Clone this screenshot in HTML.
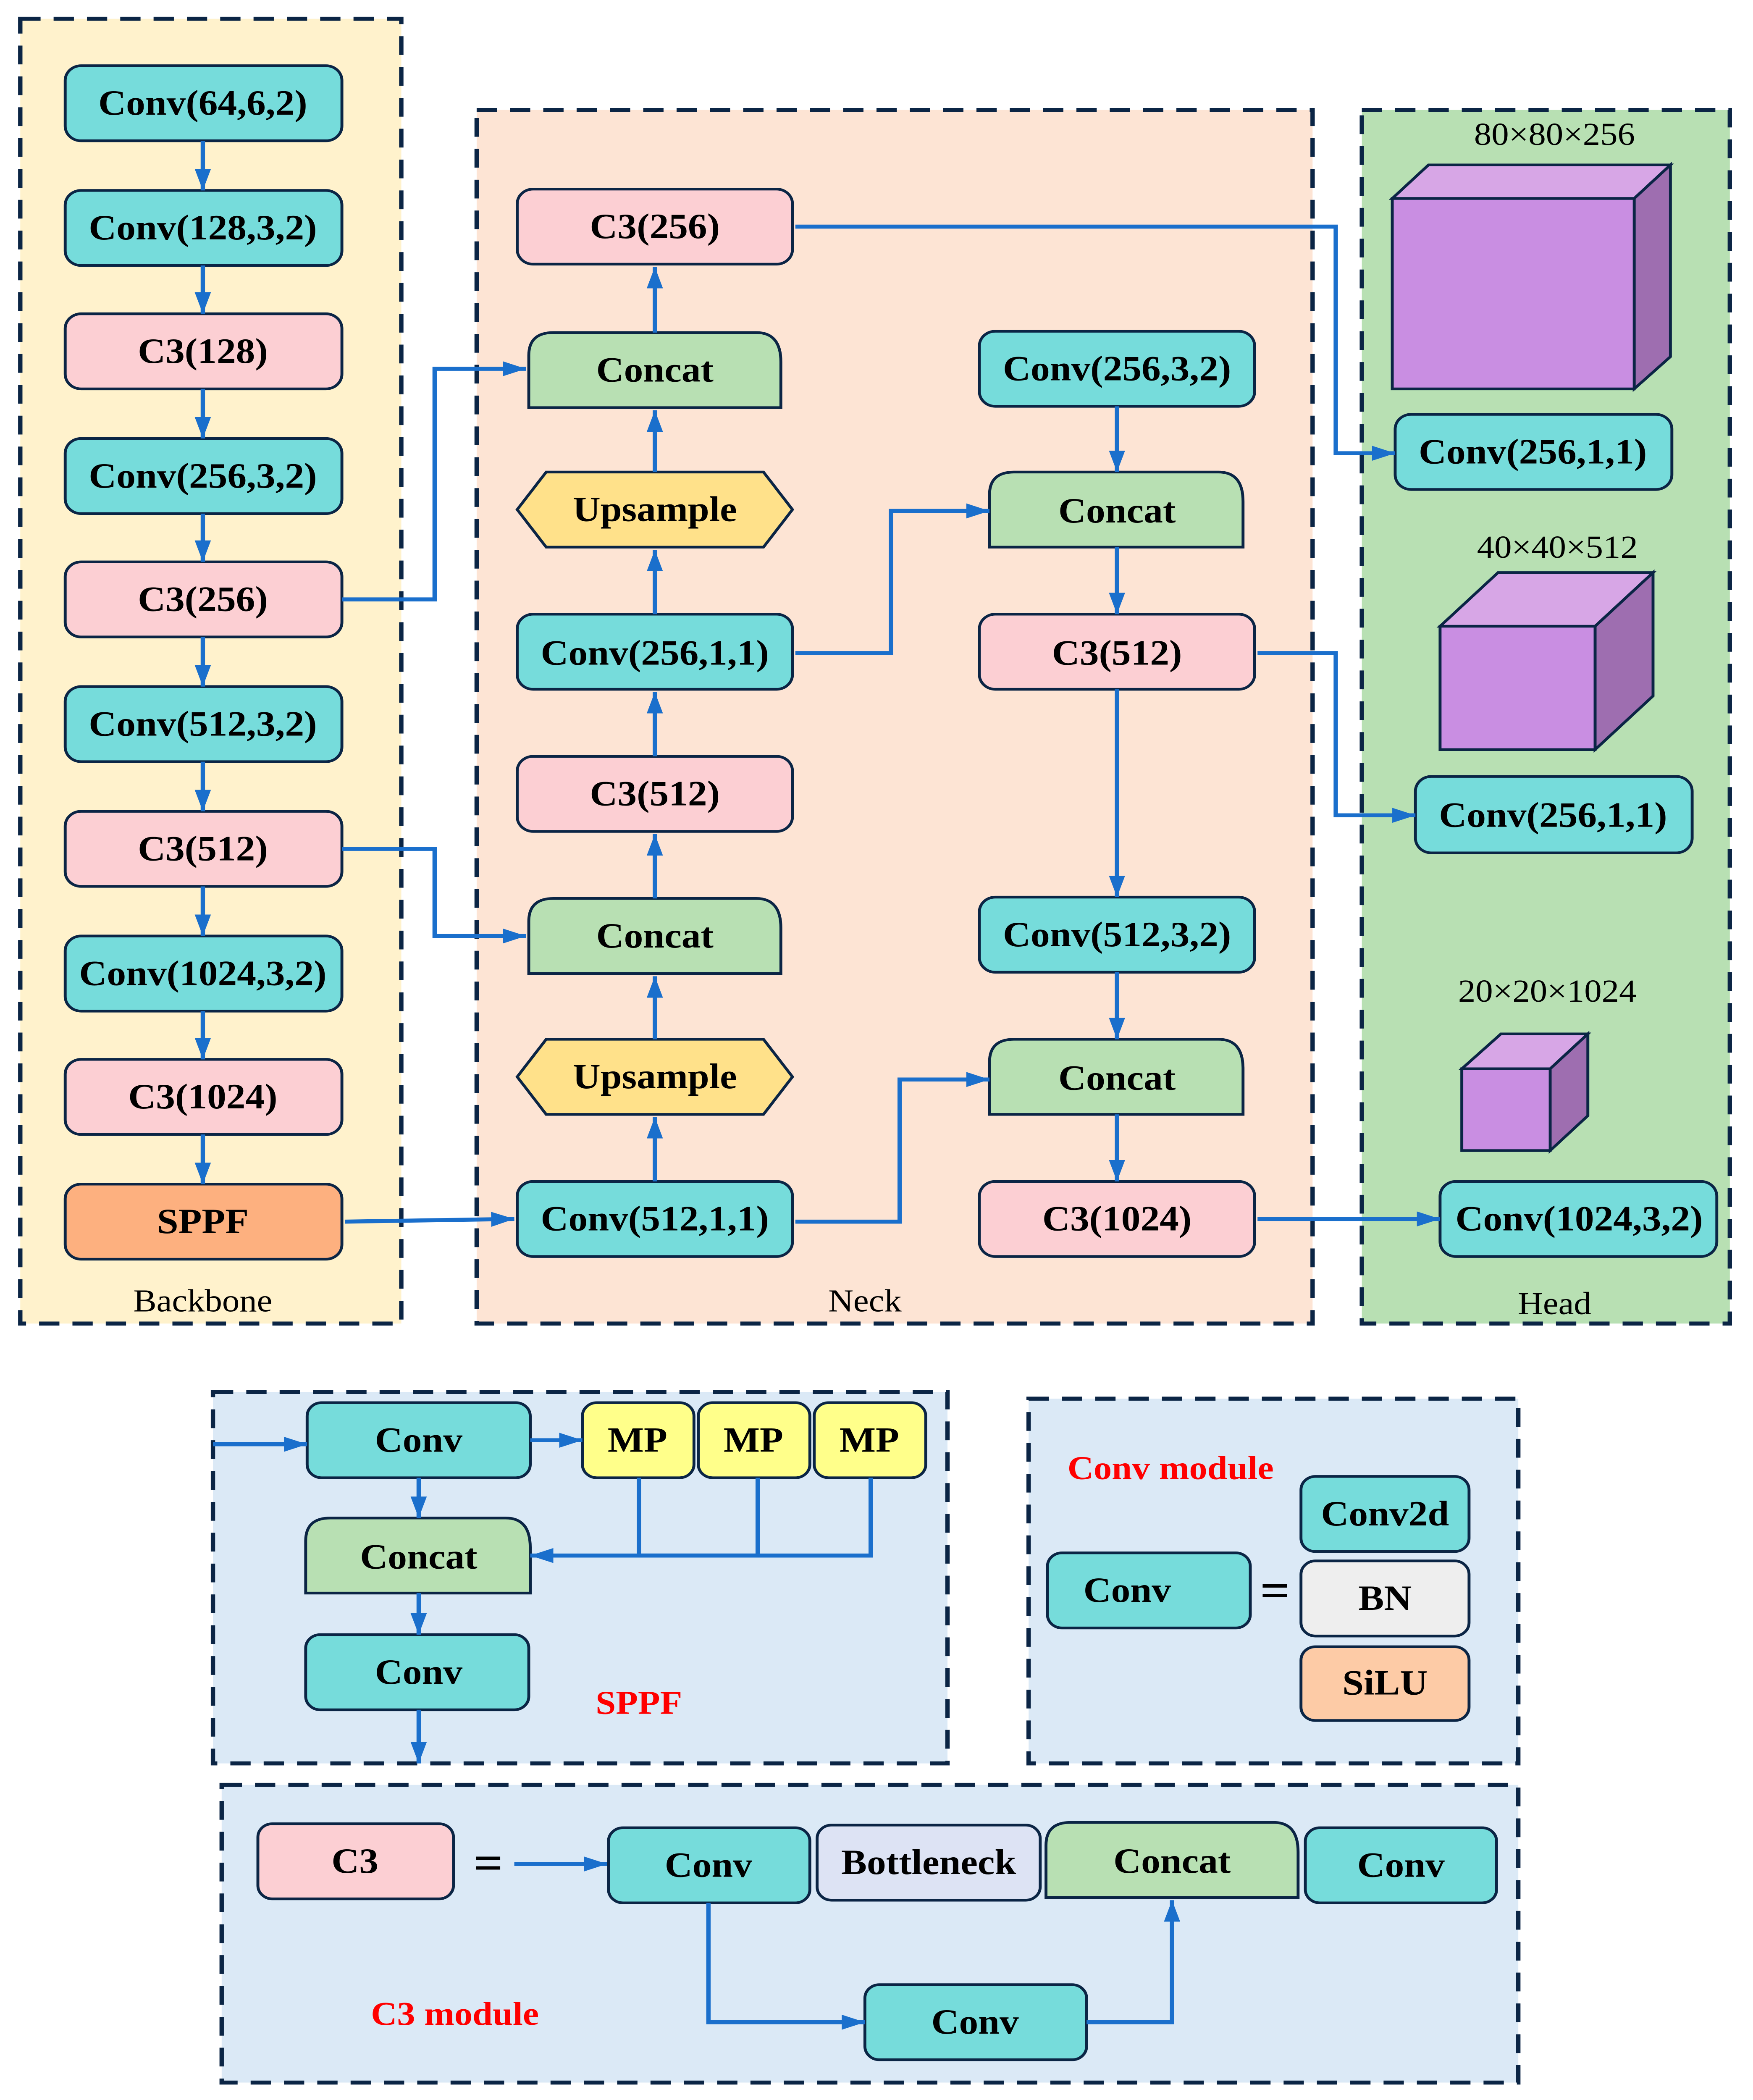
<!DOCTYPE html>
<html><head><meta charset="utf-8"><style>html,body{margin:0;padding:0;background:#fff;overflow:hidden;width:100%;height:100%}svg{display:block;position:fixed;top:0;left:0;width:100vw;height:100vh}</style></head><body>
<svg xmlns="http://www.w3.org/2000/svg" viewBox="0 0 1210 1566" preserveAspectRatio="none">
<defs>
<marker id="b" viewBox="0 0 10 10" refX="10" refY="5" markerWidth="16" markerHeight="16" orient="auto" markerUnits="userSpaceOnUse"><path d="M0,1.5 L10,5 L0,8.5 z" fill="#1a6fcc"/></marker>
</defs>
<style>
.t{font-family:"Liberation Serif",serif;font-weight:bold;font-size:26.5px;text-anchor:middle;dominant-baseline:central;fill:#000}
.l{font-family:"Liberation Serif",serif;font-size:24px;text-anchor:middle;fill:#000}
.r{font-family:"Liberation Serif",serif;font-weight:bold;font-size:25px;text-anchor:middle;fill:#f00}
.n{stroke:#0b2545;stroke-width:2}
.c{stroke:#1a6fcc;stroke-width:3;fill:none;marker-end:url(#b)}
.d{stroke:#0b2545;stroke-width:3;stroke-dasharray:14,9;}
</style>
<rect x="14" y="14" width="263" height="973" fill="#fff2cc" class="d"/>
<rect x="329" y="82" width="577" height="905" fill="#fde4d4" class="d"/>
<rect x="940" y="82" width="254" height="905" fill="#b8e0b3" class="d"/>
<rect x="147" y="1038" width="507" height="277" fill="#dbe9f6" class="d"/>
<rect x="710" y="1043" width="338" height="272" fill="#dbe9f6" class="d"/>
<rect x="153" y="1331" width="895" height="222" fill="#dbe9f6" class="d"/>
<text class="l" x="140" y="978">Backbone</text>
<text class="l" x="597" y="978">Neck</text>
<text class="l" x="1073" y="980">Head</text>

<rect x="45" y="49" width="191" height="56" rx="11" fill="#76dcdb" class="n"/><text class="t" x="140" y="77">Conv(64,6,2)</text>
<rect x="45" y="142" width="191" height="56" rx="11" fill="#76dcdb" class="n"/><text class="t" x="140" y="170">Conv(128,3,2)</text>
<rect x="45" y="234" width="191" height="56" rx="11" fill="#fccfd3" class="n"/><text class="t" x="140" y="262">C3(128)</text>
<rect x="45" y="327" width="191" height="56" rx="11" fill="#76dcdb" class="n"/><text class="t" x="140" y="355">Conv(256,3,2)</text>
<rect x="45" y="419" width="191" height="56" rx="11" fill="#fccfd3" class="n"/><text class="t" x="140" y="447">C3(256)</text>
<rect x="45" y="512" width="191" height="56" rx="11" fill="#76dcdb" class="n"/><text class="t" x="140" y="540">Conv(512,3,2)</text>
<rect x="45" y="605" width="191" height="56" rx="11" fill="#fccfd3" class="n"/><text class="t" x="140" y="633">C3(512)</text>
<rect x="45" y="698" width="191" height="56" rx="11" fill="#76dcdb" class="n"/><text class="t" x="140" y="726">Conv(1024,3,2)</text>
<rect x="45" y="790" width="191" height="56" rx="11" fill="#fccfd3" class="n"/><text class="t" x="140" y="818">C3(1024)</text>
<rect x="45" y="883" width="191" height="56" rx="11" fill="#fdb07f" class="n"/><text class="t" x="140" y="911">SPPF</text>
<path class="c" d="M140,105V142"/><path class="c" d="M140,198V234"/><path class="c" d="M140,290V327"/><path class="c" d="M140,383V419"/><path class="c" d="M140,475V512"/><path class="c" d="M140,568V605"/><path class="c" d="M140,661V698"/><path class="c" d="M140,754V790"/><path class="c" d="M140,846V883"/>

<rect x="357" y="141" width="190" height="56" rx="11" fill="#fccfd3" class="n"/><text class="t" x="452" y="169">C3(256)</text>
<path d="M365,304V265Q365,248 382,248H522Q539,248 539,270V304Z" fill="#b8e0b3" class="n"/><text class="t" x="452" y="276">Concat</text>
<path d="M357,380L377,352H527L547,380L527,408H377Z" fill="#ffe18a" class="n"/><text class="t" x="452" y="380">Upsample</text>
<rect x="357" y="458" width="190" height="56" rx="11" fill="#76dcdb" class="n"/><text class="t" x="452" y="487">Conv(256,1,1)</text>
<rect x="357" y="564" width="190" height="56" rx="11" fill="#fccfd3" class="n"/><text class="t" x="452" y="592">C3(512)</text>
<path d="M365,726V687Q365,670 382,670H522Q539,670 539,692V726Z" fill="#b8e0b3" class="n"/><text class="t" x="452" y="698">Concat</text>
<path d="M357,803L377,775H527L547,803L527,831H377Z" fill="#ffe18a" class="n"/><text class="t" x="452" y="803">Upsample</text>
<rect x="357" y="881" width="190" height="56" rx="11" fill="#76dcdb" class="n"/><text class="t" x="452" y="909">Conv(512,1,1)</text>
<path class="c" d="M452,248V199"/><path class="c" d="M452,352V306"/><path class="c" d="M452,458V410"/><path class="c" d="M452,564V516"/><path class="c" d="M452,670V622"/><path class="c" d="M452,775V728"/><path class="c" d="M452,881V833"/>

<rect x="676" y="247" width="190" height="56" rx="11" fill="#76dcdb" class="n"/><text class="t" x="771" y="275">Conv(256,3,2)</text>
<path d="M683,408V369Q683,352 700,352H841Q858,352 858,374V408Z" fill="#b8e0b3" class="n"/><text class="t" x="771" y="381">Concat</text>
<rect x="676" y="458" width="190" height="56" rx="11" fill="#fccfd3" class="n"/><text class="t" x="771" y="487">C3(512)</text>
<rect x="676" y="669" width="190" height="56" rx="11" fill="#76dcdb" class="n"/><text class="t" x="771" y="697">Conv(512,3,2)</text>
<path d="M683,831V792Q683,775 700,775H841Q858,775 858,797V831Z" fill="#b8e0b3" class="n"/><text class="t" x="771" y="804">Concat</text>
<rect x="676" y="881" width="190" height="56" rx="11" fill="#fccfd3" class="n"/><text class="t" x="771" y="909">C3(1024)</text>
<path class="c" d="M771,303V352"/><path class="c" d="M771,408V458"/><path class="c" d="M771,514V669"/><path class="c" d="M771,725V775"/><path class="c" d="M771,831V881"/>

<text class="l" x="1073" y="108">80×80×256</text>
<path d="M961,148L986,123H1153L1128,148Z" fill="#d7a6e6" class="n"/>
<path d="M1128,148L1153,123V266L1128,290Z" fill="#9e6eb0" class="n"/>
<rect x="961" y="148" width="167" height="142" fill="#c98ee2" class="n"/>
<rect x="963" y="309" width="191" height="56" rx="11" fill="#76dcdb" class="n"/><text class="t" x="1058" y="337">Conv(256,1,1)</text>
<text class="l" x="1075" y="416">40×40×512</text>
<path d="M994,467L1034,427H1141L1101,467Z" fill="#d7a6e6" class="n"/>
<path d="M1101,467L1141,427V519L1101,559Z" fill="#9e6eb0" class="n"/>
<rect x="994" y="467" width="107" height="92" fill="#c98ee2" class="n"/>
<rect x="977" y="579" width="191" height="57" rx="11" fill="#76dcdb" class="n"/><text class="t" x="1072" y="608">Conv(256,1,1)</text>
<text class="l" x="1068" y="747">20×20×1024</text>
<path d="M1009,797L1036,771H1096L1070,797Z" fill="#d7a6e6" class="n"/>
<path d="M1070,797L1096,771V832L1070,858Z" fill="#9e6eb0" class="n"/>
<rect x="1009" y="797" width="61" height="61" fill="#c98ee2" class="n"/>
<rect x="994" y="881" width="191" height="56" rx="11" fill="#76dcdb" class="n"/><text class="t" x="1090" y="909">Conv(1024,3,2)</text>

<path class="c" d="M236,447H300V275H363"/>
<path class="c" d="M236,633H300V698H363"/>
<path class="c" d="M238,911L355,909"/>
<path class="c" d="M549,911H621V805H683"/>
<path class="c" d="M549,487H615V381H683"/>
<path class="c" d="M549,169H922V338H963"/>
<path class="c" d="M868,487H922V608H977"/>
<path class="c" d="M868,909H994"/>

<rect x="212" y="1046" width="154" height="56" rx="10" fill="#76dcdb" class="n"/><text class="t" x="289" y="1074">Conv</text>
<rect x="402" y="1046" width="77" height="56" rx="10" fill="#ffff8a" class="n"/><text class="t" x="440" y="1074">MP</text>
<rect x="482" y="1046" width="77" height="56" rx="10" fill="#ffff8a" class="n"/><text class="t" x="520" y="1074">MP</text>
<rect x="562" y="1046" width="77" height="56" rx="10" fill="#ffff8a" class="n"/><text class="t" x="600" y="1074">MP</text>
<path d="M211,1188V1149Q211,1132 228,1132H349Q366,1132 366,1154V1188Z" fill="#b8e0b3" class="n"/><text class="t" x="289" y="1161">Concat</text>
<rect x="211" y="1219" width="154" height="56" rx="10" fill="#76dcdb" class="n"/><text class="t" x="289" y="1247">Conv</text>
<text class="r" x="441" y="1278">SPPF</text>
<path class="c" d="M147,1077H212"/>
<path class="c" d="M366,1074H402"/>
<path class="c" d="M289,1102V1132"/>
<path class="c" d="M289,1188V1219"/>
<path class="c" d="M289,1275V1315"/>
<path d="M441,1102V1160 M523,1102V1160 M601,1102V1160H441" stroke="#1a6fcc" stroke-width="3" fill="none"/>
<path class="c" d="M523,1160H366"/>

<text class="r" x="808" y="1103">Conv module</text>
<rect x="723" y="1158" width="140" height="56" rx="10" fill="#76dcdb" class="n"/><text class="t" x="778" y="1186">Conv</text>
<text class="t" x="880" y="1186" style="font-size:36px">=</text>
<rect x="898" y="1101" width="116" height="56" rx="10" fill="#76dcdb" class="n"/><text class="t" x="956" y="1129">Conv2d</text>
<rect x="898" y="1164" width="116" height="56" rx="10" fill="#eeeeee" class="n"/><text class="t" x="956" y="1192">BN</text>
<rect x="898" y="1228" width="116" height="55" rx="10" fill="#fdcba6" class="n"/><text class="t" x="956" y="1255">SiLU</text>

<rect x="178" y="1360" width="135" height="56" rx="10" fill="#fccfd3" class="n"/><text class="t" x="245" y="1388">C3</text>
<text class="t" x="337" y="1389" style="font-size:36px">=</text>
<path class="c" d="M355,1390H419"/>
<rect x="420" y="1363" width="139" height="56" rx="10" fill="#76dcdb" class="n"/><text class="t" x="489" y="1391">Conv</text>
<rect x="564" y="1361" width="154" height="56" rx="10" fill="#dde3f4" class="n"/><text class="t" x="641" y="1389">Bottleneck</text>
<path d="M722,1415V1376Q722,1359 739,1359H879Q896,1359 896,1381V1415Z" fill="#b8e0b3" class="n"/><text class="t" x="809" y="1388">Concat</text>
<rect x="901" y="1363" width="132" height="56" rx="10" fill="#76dcdb" class="n"/><text class="t" x="967" y="1391">Conv</text>
<rect x="597" y="1480" width="153" height="56" rx="10" fill="#76dcdb" class="n"/><text class="t" x="673" y="1508">Conv</text>
<text class="r" x="314" y="1510">C3 module</text>
<path class="c" d="M489,1419V1508H597"/>
<path class="c" d="M750,1508H809V1417"/>
</svg>
</body></html>
